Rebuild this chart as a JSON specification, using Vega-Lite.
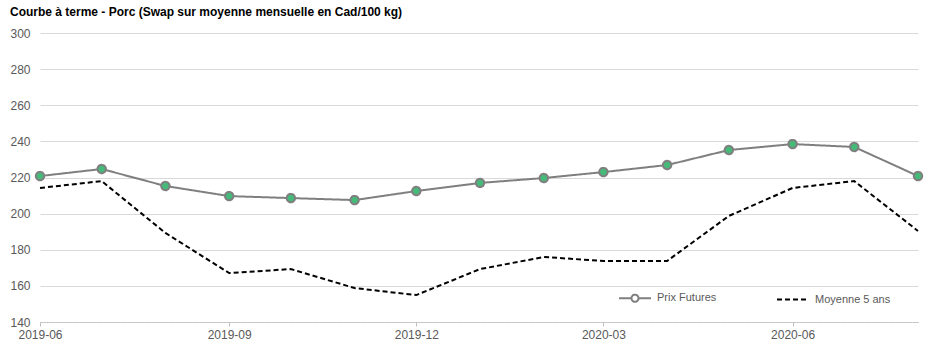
{
  "$schema": "https://vega.github.io/schema/vega-lite/v6.json",
  "width": 878,
  "height": 289,
  "autosize": {"type": "none"},
  "padding": {"left": 40, "top": 33, "right": 20, "bottom": 35},
  "background": "white",
  "title": {
    "text": "Courbe à terme - Porc (Swap sur moyenne mensuelle en Cad/100 kg)",
    "anchor": "start",
    "frame": "bounds",
    "font": "Liberation Sans",
    "fontSize": 12,
    "fontWeight": "bold",
    "color": "#000000",
    "offset": 8
  },
  "config": {
    "view": {"stroke": null},
    "font": "Liberation Sans"
  },
  "data": {
    "values": [
      {"date": "2019-06-01", "series": "Prix Futures", "value": 220.8},
      {"date": "2019-07-01", "series": "Prix Futures", "value": 224.7},
      {"date": "2019-08-01", "series": "Prix Futures", "value": 215.3},
      {"date": "2019-09-01", "series": "Prix Futures", "value": 209.7},
      {"date": "2019-10-01", "series": "Prix Futures", "value": 208.6},
      {"date": "2019-11-01", "series": "Prix Futures", "value": 207.5},
      {"date": "2019-12-01", "series": "Prix Futures", "value": 212.5},
      {"date": "2020-01-01", "series": "Prix Futures", "value": 217.0},
      {"date": "2020-02-01", "series": "Prix Futures", "value": 219.7},
      {"date": "2020-03-01", "series": "Prix Futures", "value": 223.0},
      {"date": "2020-04-01", "series": "Prix Futures", "value": 226.9},
      {"date": "2020-05-01", "series": "Prix Futures", "value": 235.2},
      {"date": "2020-06-01", "series": "Prix Futures", "value": 238.5},
      {"date": "2020-07-01", "series": "Prix Futures", "value": 236.9},
      {"date": "2020-08-01", "series": "Prix Futures", "value": 220.8},
      {"date": "2019-06-01", "series": "Moyenne 5 ans", "value": 214.2},
      {"date": "2019-07-01", "series": "Moyenne 5 ans", "value": 218.0},
      {"date": "2019-08-01", "series": "Moyenne 5 ans", "value": 189.3},
      {"date": "2019-09-01", "series": "Moyenne 5 ans", "value": 167.1},
      {"date": "2019-10-01", "series": "Moyenne 5 ans", "value": 169.3},
      {"date": "2019-11-01", "series": "Moyenne 5 ans", "value": 158.8},
      {"date": "2019-12-01", "series": "Moyenne 5 ans", "value": 154.9},
      {"date": "2020-01-01", "series": "Moyenne 5 ans", "value": 169.3},
      {"date": "2020-02-01", "series": "Moyenne 5 ans", "value": 176.0},
      {"date": "2020-03-01", "series": "Moyenne 5 ans", "value": 173.8},
      {"date": "2020-04-01", "series": "Moyenne 5 ans", "value": 173.8},
      {"date": "2020-05-01", "series": "Moyenne 5 ans", "value": 198.7},
      {"date": "2020-06-01", "series": "Moyenne 5 ans", "value": 214.2},
      {"date": "2020-07-01", "series": "Moyenne 5 ans", "value": 218.0},
      {"date": "2020-08-01", "series": "Moyenne 5 ans", "value": 190.4}
    ]
  },
  "encoding": {
    "x": {
      "field": "date",
      "type": "temporal",
      "scale": {"type": "utc", "domain": [{"year": 2019, "month": 6, "date": 1, "utc": true}, {"year": 2020, "month": 8, "date": 1, "utc": true}]},
      "axis": {
        "title": null,
        "labelExpr": "utcFormat(datum.value, '%Y-%m')",
        "values": [
          {"year": 2019, "month": 6, "date": 1, "utc": true},
          {"year": 2019, "month": 9, "date": 1, "utc": true},
          {"year": 2019, "month": 12, "date": 1, "utc": true},
          {"year": 2020, "month": 3, "date": 1, "utc": true},
          {"year": 2020, "month": 6, "date": 1, "utc": true}
        ],
        "grid": false,
        "domainColor": "#bfbfbf",
        "domainDash": [2, 1],
        "tickColor": "#bfbfbf",
        "tickSize": 4,
        "labelFontSize": 12,
        "labelColor": "#595959",
        "labelPadding": 3,
        "labelFlush": false
      }
    },
    "y": {
      "field": "value",
      "type": "quantitative",
      "scale": {"domain": [140, 300], "nice": false, "zero": false},
      "axis": {
        "title": null,
        "values": [140, 160, 180, 200, 220, 240, 260, 280, 300],
        "domain": false,
        "ticks": false,
        "gridColor": "#d9d9d9",
        "labelFontSize": 12,
        "labelColor": "#595959",
        "labelPadding": 10
      }
    },
    "color": {
      "field": "series",
      "type": "nominal",
      "scale": {"domain": ["Prix Futures", "Moyenne 5 ans"], "range": ["#7f7f7f", "#000000"]},
      "legend": {
        "title": null,
        "orient": "none",
        "legendX": 578,
        "legendY": 248,
        "direction": "horizontal",
        "columns": 2,
        "columnPadding": 56,
        "symbolType": "M-1,0H1",
        "symbolStrokeWidth": 2,
        "symbolSize": 1024,
        "labelFontSize": 11,
        "labelColor": "#595959",
        "labelOffset": 5,
        "encode": {
          "symbols": {
            "update": {
              "shape": {"signal": "datum.value === 'Prix Futures' ? 'M-1,0H-0.22M0.22,0H1M-0.22,0A0.22,0.22 0 1,0 0.22,0A0.22,0.22 0 1,0 -0.22,0' : 'M-1,0H1'"},
              "fill": {"signal": "datum.value === 'Prix Futures' ? '#ffffff' : 'transparent'"}
            }
          }
        }
      }
    },
    "strokeDash": {
      "field": "series",
      "type": "nominal",
      "scale": {"domain": ["Prix Futures", "Moyenne 5 ans"], "range": [[1, 0], [5, 3]]},
      "legend": null
    }
  },
  "layer": [
    {"mark": {"type": "line", "strokeWidth": 2}},
    {
      "transform": [{"filter": "datum.series === 'Prix Futures'"}],
      "mark": {"type": "point", "filled": true, "fill": "#45bb7a", "stroke": "#7f7f7f", "strokeWidth": 2, "size": 70, "opacity": 1},
      "encoding": {"color": {"value": "#7f7f7f"}, "strokeDash": {"value": [1, 0]}}
    }
  ]
}
